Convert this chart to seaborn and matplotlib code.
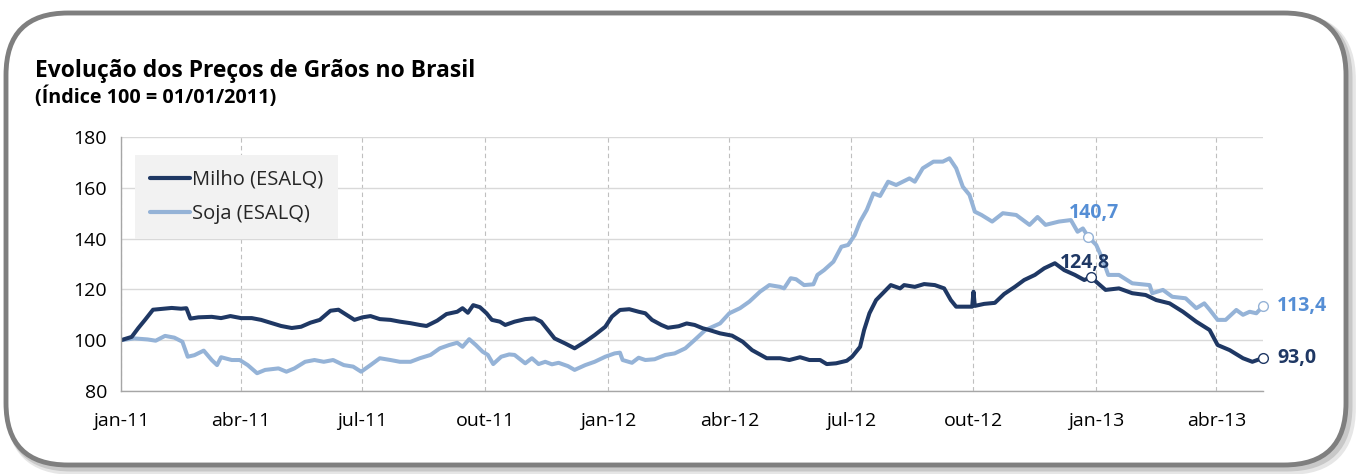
import matplotlib
matplotlib.use("Agg")
import matplotlib.pyplot as plt
from matplotlib.patches import FancyBboxPatch
from matplotlib.transforms import IdentityTransform
from matplotlib.lines import Line2D
import seaborn as sns
import pandas as pd

# ---------------- data ----------------
milho_dates = [
    "2011-01-01", "2011-01-09", "2011-01-14", "2011-01-19", "2011-01-25", "2011-01-31",
    "2011-02-08", "2011-02-15", "2011-02-19", "2011-02-22", "2011-02-28", "2011-03-10",
    "2011-03-17", "2011-03-24", "2011-04-01", "2011-04-09", "2011-04-16", "2011-04-24",
    "2011-05-01", "2011-05-09", "2011-05-16", "2011-05-23", "2011-05-30", "2011-06-07",
    "2011-06-13", "2011-06-19", "2011-06-25", "2011-07-01", "2011-07-07", "2011-07-14",
    "2011-07-22", "2011-07-29", "2011-08-06", "2011-08-13", "2011-08-18", "2011-08-26",
    "2011-09-02", "2011-09-10", "2011-09-14", "2011-09-18", "2011-09-22", "2011-09-27",
    "2011-10-02", "2011-10-06", "2011-10-12", "2011-10-16", "2011-10-23", "2011-10-31",
    "2011-11-07", "2011-11-12", "2011-11-17", "2011-11-22", "2011-11-30", "2011-12-07",
    "2011-12-15", "2011-12-22", "2011-12-30", "2012-01-04", "2012-01-10", "2012-01-17",
    "2012-01-24", "2012-01-29", "2012-02-03", "2012-02-10", "2012-02-15", "2012-02-23",
    "2012-02-29", "2012-03-06", "2012-03-12", "2012-03-17", "2012-03-25", "2012-04-03",
    "2012-04-11", "2012-04-18", "2012-04-29", "2012-05-09", "2012-05-16", "2012-05-24",
    "2012-05-31", "2012-06-08", "2012-06-13", "2012-06-20", "2012-06-28", "2012-07-02",
    "2012-07-08", "2012-07-11", "2012-07-15", "2012-07-20", "2012-07-25", "2012-07-31",
    "2012-08-07", "2012-08-10", "2012-08-18", "2012-08-25", "2012-09-02", "2012-09-09",
    "2012-09-14", "2012-09-18", "2012-09-24", "2012-09-30", "2012-10-01", "2012-10-02",
    "2012-10-09", "2012-10-17", "2012-10-24", "2012-11-01", "2012-11-08", "2012-11-16",
    "2012-11-23", "2012-12-01", "2012-12-08", "2012-12-16", "2012-12-23", "2012-12-28",
    "2013-01-08", "2013-01-18", "2013-01-28", "2013-02-07", "2013-02-15", "2013-02-25",
    "2013-03-07", "2013-03-17", "2013-03-27", "2013-04-02", "2013-04-11", "2013-04-21",
    "2013-04-28", "2013-05-06",
]
milho_values = [
    100.0, 101.3, 104.8, 108.0, 112.0, 112.3,
    112.7, 112.4, 112.6, 108.5, 109.0, 109.2,
    108.7, 109.5, 108.7, 108.7, 108.0, 106.7,
    105.6, 104.8, 105.3, 106.9, 108.0, 111.6,
    112.0, 110.0, 108.0, 109.0, 109.5, 108.3,
    108.0, 107.3, 106.7, 106.0, 105.6, 107.7,
    110.3, 111.2, 112.6, 110.8, 113.8, 113.0,
    110.6, 108.0, 107.3, 106.0, 107.3, 108.3,
    108.6, 107.3, 104.0, 100.7, 98.7, 96.8,
    99.4, 102.0, 105.3, 109.3, 111.9, 112.2,
    111.2, 110.6, 108.0, 106.0, 104.9, 105.5,
    106.6, 106.0, 104.7, 104.0, 102.7, 101.8,
    99.4, 96.1, 92.9, 92.9, 92.2, 93.3,
    92.2, 92.2, 90.6, 90.9, 91.9, 93.5,
    97.4, 104.0, 110.6, 115.8, 118.5, 121.7,
    120.4, 121.7, 121.0, 122.1, 121.7, 120.4,
    115.8, 113.2, 113.2, 113.2, 119.1, 113.5,
    114.3, 114.7, 118.2, 121.0, 123.7, 125.7,
    128.3, 130.3, 127.6, 125.7, 123.7, 124.8,
    119.8, 120.4, 118.5, 117.8, 115.8, 114.5,
    111.2, 107.3, 104.0, 98.1, 96.1, 92.9,
    91.5, 93.0,
]

soja_dates = [
    "2011-01-01", "2011-01-11", "2011-01-21", "2011-01-27", "2011-02-03", "2011-02-10",
    "2011-02-16", "2011-02-20", "2011-02-25", "2011-03-04", "2011-03-10", "2011-03-14",
    "2011-03-17", "2011-03-25", "2011-03-31", "2011-04-06", "2011-04-13", "2011-04-19",
    "2011-04-29", "2011-05-05", "2011-05-11", "2011-05-19", "2011-05-26", "2011-06-02",
    "2011-06-09", "2011-06-17", "2011-06-24", "2011-06-30", "2011-07-07", "2011-07-14",
    "2011-07-22", "2011-07-29", "2011-08-06", "2011-08-13", "2011-08-21", "2011-08-28",
    "2011-09-04", "2011-09-10", "2011-09-14", "2011-09-19", "2011-09-24", "2011-09-29",
    "2011-10-03", "2011-10-07", "2011-10-13", "2011-10-19", "2011-10-23", "2011-10-31",
    "2011-11-05", "2011-11-10", "2011-11-15", "2011-11-20", "2011-11-25", "2011-12-02",
    "2011-12-07", "2011-12-15", "2011-12-22", "2011-12-30", "2012-01-06", "2012-01-10",
    "2012-01-12", "2012-01-19", "2012-01-24", "2012-01-29", "2012-02-05", "2012-02-13",
    "2012-02-20", "2012-02-28", "2012-03-06", "2012-03-14", "2012-03-25", "2012-04-01",
    "2012-04-09", "2012-04-16", "2012-04-24", "2012-05-01", "2012-05-09", "2012-05-12",
    "2012-05-17", "2012-05-21", "2012-05-27", "2012-06-03", "2012-06-06", "2012-06-11",
    "2012-06-18", "2012-06-24", "2012-06-29", "2012-07-04", "2012-07-08", "2012-07-13",
    "2012-07-18", "2012-07-23", "2012-07-29", "2012-08-04", "2012-08-14", "2012-08-18",
    "2012-08-24", "2012-09-01", "2012-09-08", "2012-09-13", "2012-09-18", "2012-09-23",
    "2012-09-28", "2012-10-02", "2012-10-07", "2012-10-15", "2012-10-23", "2012-11-02",
    "2012-11-12", "2012-11-18", "2012-11-24", "2012-12-04", "2012-12-13", "2012-12-18",
    "2012-12-22", "2012-12-26", "2013-01-01", "2013-01-06", "2013-01-10", "2013-01-18",
    "2013-01-28", "2013-02-10", "2013-02-12", "2013-02-20", "2013-02-27", "2013-03-09",
    "2013-03-17", "2013-03-23", "2013-03-27", "2013-04-02", "2013-04-08", "2013-04-16",
    "2013-04-21", "2013-04-26", "2013-05-01", "2013-05-06",
]
soja_values = [
    100.0, 100.7, 100.3, 99.8, 101.7, 101.0,
    99.4, 93.5, 94.1, 95.9, 92.2, 90.2,
    93.3, 92.2, 92.2, 90.2, 87.0, 88.3,
    88.9, 87.6, 88.9, 91.5, 92.2, 91.5,
    92.2, 90.2, 89.6, 87.6, 90.2, 92.9,
    92.2, 91.5, 91.5, 92.9, 94.2, 96.8,
    98.1, 99.0, 97.4, 100.4, 98.1, 95.5,
    94.2, 90.6, 93.5, 94.4, 94.2, 90.9,
    92.9, 90.6, 91.5, 90.5, 91.1, 89.8,
    88.3, 90.2, 91.5, 93.5, 94.8, 95.1,
    92.2, 91.1, 93.1, 92.2, 92.5, 94.2,
    94.8, 96.8, 100.1, 104.0, 106.6, 110.6,
    112.6, 115.2, 119.1, 121.7, 121.0, 120.4,
    124.4, 124.0, 121.7, 122.0, 125.7, 127.6,
    130.9, 136.8, 137.5, 141.4, 146.7, 151.3,
    157.8, 156.8, 162.4, 161.1, 163.7, 162.4,
    167.7, 170.3, 170.3, 171.6, 167.7, 160.4,
    157.2, 150.6, 149.3, 146.7, 150.0, 149.3,
    145.4, 148.5, 145.4, 146.7, 147.3, 142.7,
    144.0, 140.7, 137.5, 131.6, 125.7, 125.7,
    122.4, 121.7, 118.5, 119.8, 117.1, 116.5,
    112.6, 114.5, 112.0, 108.0, 108.0, 111.9,
    110.0, 111.2, 110.6, 113.4,
]

series_names = ["Milho (ESALQ)", "Soja (ESALQ)"]
tick_dates = ["2011-01-01", "2011-04-01", "2011-07-01", "2011-10-01", "2012-01-01",
              "2012-04-01", "2012-07-01", "2012-10-01", "2013-01-01", "2013-04-01"]
tick_labels = ["jan-11", "abr-11", "jul-11", "out-11", "jan-12",
               "abr-12", "jul-12", "out-12", "jan-13", "abr-13"]
y_ticks = [80, 100, 120, 140, 160, 180]
milho_label_dates = ["2012-12-28", "2013-05-06"]
soja_label_dates = ["2012-12-26", "2013-05-06"]

title = "Evolução dos Preços de Grãos no Brasil"
subtitle = "(Índice 100 = 01/01/2011)"

# ---------------- styling ----------------
sns.set_theme(style="white")
plt.rcParams["font.family"] = ["Open Sans", "DejaVu Sans"]

MILHO_C = "#1F3864"
SOJA_C = "#95B3D7"
SOJA_LABEL_C = "#558ED5"
palette = {series_names[0]: MILHO_C, series_names[1]: SOJA_C}

df = pd.concat([
    pd.DataFrame({"Data": pd.to_datetime(soja_dates), "Índice": soja_values, "Série": series_names[1]}),
    pd.DataFrame({"Data": pd.to_datetime(milho_dates), "Índice": milho_values, "Série": series_names[0]}),
], ignore_index=True)

W, H = 1357, 474
fig = plt.figure(figsize=(W / 100, H / 100), dpi=100)
fig.patch.set_facecolor("white")

# rounded frame with a soft shadow (pixel coordinates)
for off, col, lw in [(5, "#e6e6e6", 7), (3, "#c8c8c8", 5)]:
    fig.patches.append(FancyBboxPatch((6 + off, 9 - off), 1340, 452,
                                      boxstyle="round,pad=0,rounding_size=62",
                                      transform=IdentityTransform(), facecolor="none",
                                      edgecolor=col, linewidth=lw, zorder=-3))
fig.patches.append(FancyBboxPatch((6, 9), 1340, 452,
                                  boxstyle="round,pad=0,rounding_size=62",
                                  transform=IdentityTransform(), facecolor="white",
                                  edgecolor="#7f7f7f", linewidth=3.5, zorder=-2))

ax = fig.add_axes([121 / W, 1 - 391 / H, (1263 - 121) / W, (391 - 137) / H])
ax.set_zorder(5)
ax.set_facecolor("none")

sns.lineplot(data=df, x="Data", y="Índice", hue="Série", palette=palette,
             hue_order=[series_names[1], series_names[0]], linewidth=2.9, ax=ax,
             legend=False, estimator=None, sort=True)

ax.set_xlim(pd.Timestamp(milho_dates[0]), pd.Timestamp(milho_dates[-1]))
ax.set_ylim(80, 180)
ax.set_yticks(y_ticks)
ax.set_xticks(pd.to_datetime(tick_dates))
ax.set_xticklabels(tick_labels)
ax.set_xlabel("")
ax.set_ylabel("")

ax.grid(axis="y", color="#D9D9D9", linewidth=1.0, linestyle="-")
ax.grid(axis="x", color="#BFBFBF", linewidth=0.8, linestyle=(0, (4, 3)))
ax.set_axisbelow(True)
for s in ["top", "right"]:
    ax.spines[s].set_visible(False)
for s in ["left", "bottom"]:
    ax.spines[s].set_color("#A6A6A6")
    ax.spines[s].set_linewidth(1.0)
ax.tick_params(axis="both", which="both", direction="out", length=5, width=1,
               color="#A6A6A6", labelsize=14, labelcolor="#000000")
ax.tick_params(axis="y", pad=5)
ax.tick_params(axis="x", pad=10)

# highlighted values
def fmt(v):
    return f"{v:.1f}".replace(".", ",")

m_idx = [milho_dates.index(d) for d in milho_label_dates]
s_idx = [soja_dates.index(d) for d in soja_label_dates]

for i, (dx, dy, ha) in zip(m_idx, [(-4, 3, "center"), (10, 0, "left")]):
    x = pd.Timestamp(milho_dates[i]); y = milho_values[i]
    ax.plot([x], [y], marker="o", ms=7, mfc="white", mec=MILHO_C, mew=1.0, zorder=6, clip_on=False)
    ax.annotate(fmt(y), (x, y), xytext=(dx, dy), textcoords="offset points",
                ha=ha, va="bottom" if ha == "center" else "center",
                color=MILHO_C, fontsize=14, fontweight="bold", zorder=7)
for i, (dx, dy, ha) in zip(s_idx, [(4, 10, "center"), (10, 0, "left")]):
    x = pd.Timestamp(soja_dates[i]); y = soja_values[i]
    ax.plot([x], [y], marker="o", ms=7, mfc="white", mec=SOJA_C, mew=1.0, zorder=6, clip_on=False)
    ax.annotate(fmt(y), (x, y), xytext=(dx, dy), textcoords="offset points",
                ha=ha, va="bottom" if ha == "center" else "center",
                color=SOJA_LABEL_C, fontsize=14, fontweight="bold", zorder=7)

# legend on a light grey box
handles = [Line2D([], [], color=MILHO_C, lw=3), Line2D([], [], color=SOJA_C, lw=3)]
leg = ax.legend(handles, series_names, loc="upper left", bbox_to_anchor=(0.012, 0.93),
                frameon=True, fancybox=False, fontsize=14.5, handlelength=2.0,
                handletextpad=0.1, borderpad=0.75, borderaxespad=0, labelspacing=0.7)
leg.get_frame().set_facecolor("#F2F2F2")
leg.get_frame().set_edgecolor("none")
leg.get_frame().set_alpha(1)
# extra horizontal padding inside the grey box, as in the reference
leg._legend_box.sep = 0
leg.borderpad = 0.75

# titles
fig.text(35 / W, 1 - 77 / H, title, fontsize=16.5, fontweight="bold", color="black",
         ha="left", va="baseline")
fig.text(35 / W, 1 - 103 / H, subtitle, fontsize=14.2, fontweight="bold", color="black",
         ha="left", va="baseline")

fig.savefig("out.png", dpi=100, facecolor="white")
